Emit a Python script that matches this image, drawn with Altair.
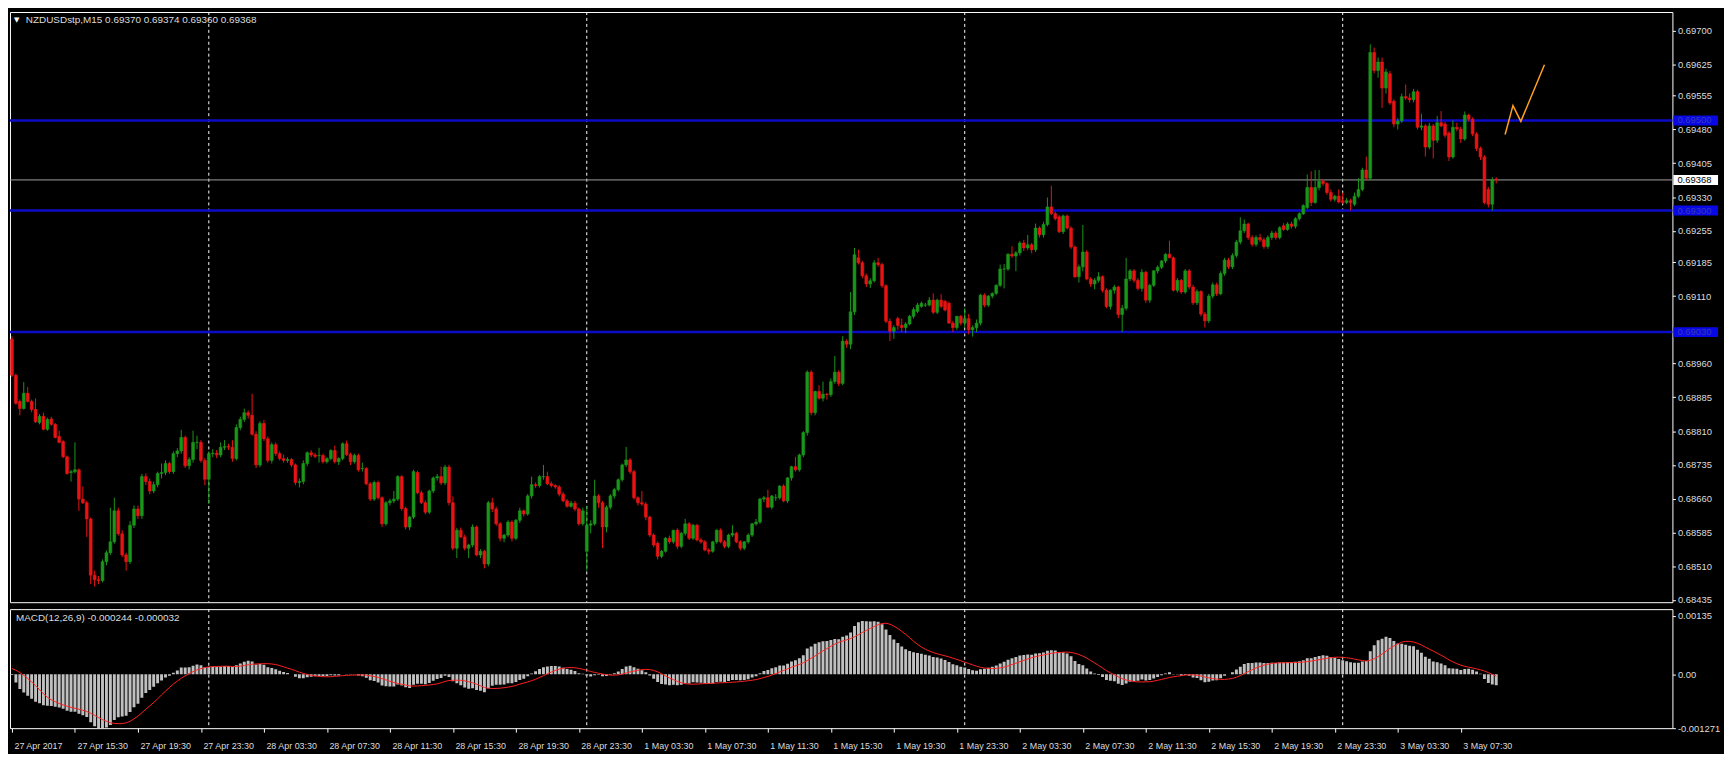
import json
import altair as alt
import pandas as pd

# ---------------- data (prices in points: price = 0.68 + value * 0.00001) ----------------
BASE = 0.68
PT = 0.00001

opens = [
    1014, 934, 876, 860, 894, 876, 858, 829, 843, 814,
    837, 825, 798, 787, 753, 718, 720, 724, 659, 651,
    615, 490, 480, 478, 520, 540, 564, 633, 582, 535,
    520, 601, 637, 622, 709, 698, 677, 691, 716, 718,
    738, 720, 760, 766, 796, 733, 747, 785, 785, 745,
    703, 760, 761, 757, 774, 776, 774, 749, 818, 836,
    851, 845, 803, 735, 827, 793, 745, 780, 760, 749,
    745, 747, 735, 696, 698, 738, 762, 757, 756, 756,
    742, 749, 767, 742, 749, 782, 758, 742, 756, 727,
    727, 693, 659, 696, 662, 604, 651, 655, 659, 709,
    638, 597, 619, 718, 673, 651, 630, 677, 706, 709,
    695, 730, 651, 550, 590, 575, 550, 557, 597, 535,
    543, 515, 651, 637, 604, 572, 579, 608, 572, 612,
    633, 626, 666, 691, 689, 709, 709, 693, 689, 686,
    670, 655, 643, 650, 637, 604, 543, 601, 604, 666,
    651, 597, 641, 666, 680, 702, 735, 746, 720, 662,
    651, 648, 619, 579, 561, 532, 543, 572, 564, 590,
    554, 583, 604, 572, 601, 568, 564, 546, 543, 564,
    590, 564, 554, 579, 583, 564, 550, 564, 579, 604,
    608, 659, 662, 641, 662, 662, 688, 655, 706, 731,
    724, 757, 807, 941, 851, 898, 883, 892, 891, 920,
    941, 916, 1010, 1003, 1075, 1195, 1184, 1155, 1137, 1144,
    1184, 1180, 1133, 1054, 1032, 1060, 1045, 1040, 1048, 1065,
    1076, 1087, 1090, 1090, 1101, 1074, 1101, 1098, 1094, 1050,
    1040, 1065, 1050, 1060, 1035, 1040, 1050, 1112, 1090, 1110,
    1116, 1134, 1170, 1170, 1203, 1199, 1206, 1228, 1217, 1224,
    1213, 1261, 1246, 1269, 1308, 1293, 1286, 1253, 1288, 1261,
    1219, 1153, 1175, 1208, 1148, 1137, 1145, 1153, 1123, 1087,
    1123, 1130, 1069, 1083, 1148, 1166, 1145, 1127, 1163, 1101,
    1134, 1166, 1174, 1188, 1203, 1195, 1123, 1145, 1119, 1166,
    1130, 1095, 1120, 1070, 1055, 1110, 1135, 1115, 1160, 1190,
    1175, 1200, 1230, 1255, 1270, 1240, 1225, 1240, 1235, 1220,
    1240, 1250, 1240, 1266, 1258, 1270, 1265, 1282, 1293, 1307,
    1351, 1318, 1351, 1365, 1360, 1340, 1325, 1332, 1322, 1318,
    1322, 1314, 1332, 1347, 1390, 1372, 1651, 1611, 1630, 1572,
    1604, 1543, 1492, 1499, 1553, 1550, 1546, 1564, 1485, 1488,
    1441, 1488, 1456, 1495, 1492, 1472, 1419, 1485, 1481, 1459,
    1512, 1503, 1470, 1438, 1419, 1347, 1314, 1370,
]
highs = [
    1021, 938, 880, 919, 908, 880, 883, 848, 851, 840,
    842, 828, 811, 790, 756, 724, 785, 727, 687, 655,
    618, 500, 488, 525, 545, 640, 662, 640, 590, 540,
    610, 645, 645, 715, 716, 705, 698, 720, 738, 745,
    742, 765, 772, 813, 800, 752, 811, 800, 790, 750,
    765, 770, 768, 785, 790, 782, 790, 825, 842, 860,
    856, 893, 810, 832, 835, 798, 785, 785, 765, 758,
    752, 750, 738, 705, 745, 765, 768, 762, 773, 760,
    752, 770, 778, 752, 785, 789, 762, 760, 760, 740,
    730, 697, 700, 700, 665, 655, 660, 677, 712, 712,
    642, 622, 724, 722, 678, 656, 680, 709, 715, 731,
    735, 735, 665, 595, 596, 580, 560, 603, 600, 548,
    546, 655, 662, 642, 608, 582, 612, 612, 615, 640,
    636, 670, 709, 696, 712, 735, 720, 698, 692, 690,
    675, 659, 655, 655, 640, 640, 644, 612, 702, 670,
    655, 645, 670, 684, 705, 738, 775, 750, 724, 665,
    677, 652, 622, 583, 565, 546, 575, 578, 590, 594,
    586, 615, 608, 604, 604, 573, 568, 550, 566, 592,
    594, 568, 582, 601, 586, 568, 566, 583, 606, 615,
    662, 666, 680, 668, 670, 690, 692, 708, 733, 753,
    760, 810, 945, 945, 900, 912, 920, 895, 927, 977,
    945, 1021, 1014, 1119, 1217, 1213, 1188, 1160, 1150, 1190,
    1195, 1184, 1136, 1060, 1045, 1064, 1060, 1052, 1068, 1085,
    1095, 1098, 1095, 1108, 1116, 1104, 1114, 1102, 1098, 1055,
    1066, 1068, 1083, 1070, 1045, 1058, 1115, 1116, 1112, 1118,
    1136, 1180, 1181, 1205, 1221, 1210, 1232, 1235, 1246, 1228,
    1271, 1265, 1275, 1329, 1355, 1298, 1290, 1291, 1291, 1265,
    1222, 1180, 1268, 1212, 1152, 1150, 1163, 1156, 1127, 1125,
    1135, 1133, 1090, 1195, 1170, 1170, 1150, 1170, 1166, 1137,
    1168, 1178, 1190, 1205, 1233, 1198, 1150, 1148, 1170, 1170,
    1135, 1125, 1123, 1075, 1115, 1140, 1140, 1165, 1195, 1195,
    1205, 1235, 1285, 1280, 1273, 1245, 1245, 1248, 1240, 1245,
    1255, 1254, 1265, 1272, 1274, 1275, 1285, 1296, 1314, 1380,
    1387, 1390, 1390, 1370, 1363, 1347, 1335, 1347, 1340, 1328,
    1326, 1340, 1372, 1395, 1420, 1669, 1662, 1640, 1640, 1615,
    1610, 1547, 1505, 1560, 1580, 1560, 1570, 1568, 1515, 1492,
    1495, 1492, 1510, 1521, 1497, 1476, 1500, 1495, 1486, 1520,
    1515, 1507, 1474, 1442, 1423, 1352, 1374, 1374,
]
lows = [
    930, 869, 845, 858, 874, 852, 828, 825, 812, 811,
    822, 794, 783, 750, 713, 698, 716, 633, 648, 575,
    470, 465, 470, 474, 512, 535, 560, 578, 530, 500,
    515, 595, 615, 615, 690, 670, 672, 685, 705, 712,
    715, 715, 752, 760, 728, 725, 740, 770, 740, 690,
    648, 752, 750, 752, 768, 768, 742, 745, 812, 830,
    838, 800, 728, 730, 788, 740, 738, 755, 745, 740,
    740, 730, 690, 685, 692, 732, 752, 750, 740, 738,
    738, 745, 738, 735, 745, 755, 735, 738, 720, 720,
    690, 655, 655, 658, 597, 600, 645, 650, 655, 633,
    592, 590, 615, 670, 648, 625, 626, 672, 700, 690,
    690, 645, 545, 528, 572, 545, 528, 552, 532, 528,
    505, 510, 630, 600, 565, 563, 575, 565, 568, 606,
    620, 622, 660, 684, 685, 702, 690, 685, 682, 665,
    652, 640, 640, 632, 600, 600, 500, 583, 600, 640,
    550, 585, 636, 660, 676, 698, 730, 715, 658, 645,
    644, 612, 575, 552, 525, 528, 540, 560, 560, 548,
    550, 578, 568, 568, 565, 560, 543, 536, 540, 560,
    561, 550, 550, 575, 561, 545, 546, 560, 575, 600,
    604, 652, 640, 636, 655, 658, 652, 650, 700, 720,
    720, 752, 800, 845, 845, 880, 876, 880, 886, 915,
    910, 912, 995, 992, 1068, 1180, 1150, 1130, 1128, 1140,
    1175, 1128, 1050, 1010, 1015, 1035, 1030, 1028, 1045, 1060,
    1072, 1084, 1086, 1087, 1070, 1070, 1083, 1076, 1048, 1030,
    1035, 1045, 1040, 1025, 1020, 1030, 1045, 1085, 1086, 1105,
    1112, 1130, 1127, 1166, 1195, 1165, 1200, 1210, 1212, 1205,
    1208, 1240, 1240, 1265, 1290, 1278, 1250, 1248, 1258, 1215,
    1150, 1140, 1165, 1145, 1130, 1125, 1140, 1118, 1083, 1080,
    1115, 1061, 1030, 1078, 1143, 1140, 1123, 1120, 1095, 1095,
    1130, 1160, 1170, 1183, 1195, 1120, 1118, 1115, 1115, 1125,
    1090, 1090, 1065, 1040, 1050, 1105, 1110, 1112, 1155, 1170,
    1170, 1195, 1225, 1250, 1235, 1220, 1220, 1230, 1215, 1215,
    1235, 1235, 1236, 1255, 1255, 1260, 1260, 1278, 1290, 1303,
    1310, 1315, 1345, 1355, 1335, 1320, 1320, 1316, 1315, 1314,
    1300, 1310, 1328, 1343, 1368, 1367, 1605, 1595, 1528, 1560,
    1535, 1485, 1480, 1495, 1545, 1540, 1540, 1480, 1478, 1420,
    1436, 1416, 1450, 1485, 1462, 1410, 1415, 1476, 1450, 1455,
    1498, 1465, 1432, 1412, 1314, 1307, 1300, 1360,
]
closes = [
    934, 872, 860, 894, 876, 858, 831, 843, 814, 836,
    825, 796, 785, 753, 716, 720, 724, 659, 651, 615,
    490, 480, 478, 520, 540, 564, 633, 582, 535, 520,
    601, 637, 622, 709, 698, 677, 691, 716, 718, 738,
    720, 760, 766, 796, 733, 747, 785, 785, 745, 703,
    760, 761, 757, 774, 776, 774, 749, 818, 836, 851,
    845, 803, 735, 827, 793, 745, 780, 760, 749, 745,
    747, 735, 696, 698, 738, 762, 757, 754, 756, 742,
    749, 767, 742, 749, 782, 758, 742, 756, 724, 727,
    693, 659, 696, 662, 604, 651, 655, 659, 709, 638,
    597, 619, 720, 673, 651, 630, 677, 706, 709, 695,
    730, 651, 550, 590, 575, 550, 557, 597, 535, 543,
    515, 651, 637, 604, 572, 579, 608, 572, 612, 633,
    626, 666, 691, 689, 709, 709, 693, 689, 686, 670,
    655, 643, 650, 637, 604, 633, 601, 604, 666, 651,
    597, 641, 666, 680, 702, 735, 746, 720, 662, 651,
    648, 619, 579, 557, 532, 543, 572, 564, 590, 554,
    583, 604, 572, 601, 568, 564, 546, 543, 564, 590,
    564, 554, 579, 583, 564, 550, 564, 579, 604, 608,
    659, 662, 641, 666, 662, 688, 655, 706, 731, 724,
    757, 807, 941, 851, 898, 883, 892, 891, 920, 941,
    916, 1010, 1003, 1075, 1202, 1184, 1155, 1137, 1144, 1184,
    1180, 1133, 1054, 1032, 1040, 1045, 1040, 1048, 1065, 1080,
    1090, 1094, 1090, 1101, 1074, 1101, 1087, 1079, 1050, 1040,
    1065, 1050, 1060, 1035, 1040, 1050, 1112, 1090, 1110, 1116,
    1134, 1170, 1170, 1203, 1199, 1206, 1228, 1217, 1224, 1213,
    1261, 1246, 1269, 1308, 1293, 1282, 1253, 1288, 1261, 1219,
    1153, 1175, 1208, 1148, 1137, 1145, 1153, 1123, 1087, 1123,
    1130, 1069, 1083, 1148, 1166, 1145, 1127, 1163, 1101, 1134,
    1166, 1174, 1188, 1203, 1195, 1123, 1145, 1119, 1166, 1130,
    1095, 1120, 1070, 1055, 1110, 1135, 1115, 1160, 1190, 1175,
    1200, 1230, 1255, 1270, 1240, 1225, 1240, 1235, 1220, 1240,
    1250, 1240, 1262, 1258, 1270, 1265, 1282, 1293, 1311, 1351,
    1318, 1351, 1365, 1360, 1340, 1325, 1332, 1319, 1318, 1322,
    1318, 1332, 1347, 1390, 1372, 1651, 1611, 1630, 1572, 1608,
    1539, 1492, 1499, 1553, 1550, 1546, 1564, 1485, 1488, 1441,
    1488, 1456, 1495, 1488, 1467, 1419, 1485, 1481, 1459, 1512,
    1503, 1470, 1438, 1419, 1318, 1314, 1369, 1368,
]

x_labels = [
    "27 Apr 2017", "27 Apr 15:30", "27 Apr 19:30", "27 Apr 23:30",
    "28 Apr 03:30", "28 Apr 07:30", "28 Apr 11:30", "28 Apr 15:30",
    "28 Apr 19:30", "28 Apr 23:30", "1 May 03:30", "1 May 07:30",
    "1 May 11:30", "1 May 15:30", "1 May 19:30", "1 May 23:30",
    "2 May 03:30", "2 May 07:30", "2 May 11:30", "2 May 15:30",
    "2 May 19:30", "2 May 23:30", "3 May 03:30", "3 May 07:30",
]
bars_per_label = 16
price_ticks = [0.69700, 0.69625, 0.69555, 0.69480, 0.69405, 0.69330, 0.69255,
               0.69185, 0.69110, 0.68960, 0.68885, 0.68810, 0.68735, 0.68660,
               0.68585, 0.68510, 0.68435]
level_prices = [0.69500, 0.69300, 0.69030]
bid_price = 0.69368
day_separators = [50, 146, 242, 338]          # bar index of each day's 00:00
zig_bars = [379.25, 381.25, 383.25, 389.25]   # hand-drawn orange trend lines
zig_prices = [0.69469, 0.69533, 0.69498, 0.69624]
macd_tick_values = [0.00135, 0.0, -0.00124]
macd_tick_text = ["0.00135", "0.00", "-0.001271"]
# indicator state carried in from the bars before the first visible one (estimated)
ema12_seed = 0.69125
ema26_seed = 0.69110
title_text = "NZDUSDstp,M15  0.69370 0.69374 0.69360 0.69368"
macd_title = "MACD(12,26,9) -0.000244 -0.000032"

# ---------------- frames ----------------
n = len(closes)
df = pd.DataFrame({
    "i": list(range(n)),
    "o": [round(BASE + v * PT, 5) for v in opens],
    "h": [round(BASE + v * PT, 5) for v in highs],
    "l": [round(BASE + v * PT, 5) for v in lows],
    "c": [round(BASE + v * PT, 5) for v in closes],
})
# MACD(12,26,9) as MetaTrader computes it: EMA12-EMA26 of close, signal = SMA9 of main
a12, a26 = 2 / 13, 2 / 27
e12, e26 = ema12_seed, ema26_seed
main_vals = []
for cval in df["c"]:
    e12 = e12 + a12 * (cval - e12)
    e26 = e26 + a26 * (cval - e26)
    main_vals.append(e12 - e26)
df["macd"] = main_vals
prior = [ema12_seed - ema26_seed] * 8
padded = pd.Series(prior + main_vals)
df["signal"] = padded.rolling(9).mean().iloc[8:].reset_index(drop=True)

levels_df = pd.DataFrame({"p": level_prices, "txt": [f"{p:.5f}" for p in level_prices]})
bid_df = pd.DataFrame({"p": [bid_price], "txt": [f"{bid_price:.5f}"]})
sep_df = pd.DataFrame({"i": day_separators})
zig_df = pd.DataFrame({"i": zig_bars, "p": zig_prices, "k": list(range(len(zig_bars)))})
one = pd.DataFrame({"a": [0]})

# ---------------- styling ----------------
W = 1676
H_MAIN = 595
H_MACD = 120
FONT = "Liberation Sans"
FS = 9.5
FSX = 9
FST = 10
TXT = "#dcdcdc"
UP = "#1a961a"
DOWN = "#e81414"
LEVEL_BLUE = "#0c0cc8"

xdom = alt.Scale(domain=[-0.5, 421.75], nice=False, zero=False)
ydom = alt.Scale(domain=[0.68430, 0.69741], nice=False, zero=False)
yax = alt.Axis(orient="right", values=price_ticks, format=".5f", title=None,
               grid=False, domain=False, ticks=True, tickSize=3, tickColor="white",
               labelColor=TXT, labelFont=FONT, labelFontSize=FS, labelPadding=2,
               labelOverlap=False, labelFlush=False)

X = alt.X("i:Q", scale=xdom, axis=None)

seps = alt.Chart(sep_df).mark_rule(color="white", strokeDash=[3, 3], strokeWidth=1).encode(x=X)

levels = alt.Chart(levels_df).mark_rule(color=LEVEL_BLUE, strokeWidth=2.5).encode(
    y=alt.Y("p:Q", scale=ydom, axis=yax))
bid = alt.Chart(bid_df).mark_rule(color="#a0a0a0", strokeWidth=1).encode(
    y=alt.Y("p:Q", scale=ydom, axis=yax))

base = alt.Chart(df).transform_calculate(
    dirn="datum.c >= datum.o ? 'up' : 'down'",
    x0="datum.i - 0.36",
    x1="datum.i + 0.36",
)
col = alt.Color("dirn:N", scale=alt.Scale(domain=["up", "down"], range=[UP, DOWN]), legend=None)
stk = alt.Stroke("dirn:N", scale=alt.Scale(domain=["up", "down"], range=[UP, DOWN]), legend=None)

wicks = base.mark_rule(strokeWidth=1, clip=True).encode(
    x=X, y=alt.Y("l:Q", scale=ydom, axis=yax), y2="h:Q", color=col)
bodies = base.mark_bar(strokeWidth=0.6, clip=True).encode(
    x=alt.X("x0:Q", scale=xdom, axis=None), x2="x1:Q",
    y=alt.Y("o:Q", scale=ydom, axis=yax), y2="c:Q", fill=col, stroke=stk)

zig = alt.Chart(zig_df).mark_line(color="#ffa020", strokeWidth=1.5).encode(
    x=X, y=alt.Y("p:Q", scale=ydom, axis=yax), order="k:Q")

title_tri = alt.Chart(one).mark_text(text="▼", color="white", fontSize=7, align="left",
                                     baseline="middle", font="DejaVu Sans").encode(
    x=alt.value(4), y=alt.value(8))
title = alt.Chart(one).mark_text(text=title_text, color=TXT, fontSize=FST, align="left",
                                 baseline="middle", font=FONT).encode(
    x=alt.value(16), y=alt.value(8))

lvl_box = alt.Chart(levels_df).mark_rule(color="#0808e6", strokeWidth=10).encode(
    x=alt.value(W + 1), x2=alt.value(W + 46), y=alt.Y("p:Q", scale=ydom, axis=yax))
lvl_txt = alt.Chart(levels_df).mark_text(color="#3a3ab4", fontSize=FS, align="left",
                                         baseline="middle", font=FONT).encode(
    x=alt.value(W + 5), y=alt.Y("p:Q", scale=ydom, axis=yax), text="txt:N")
bid_box = alt.Chart(bid_df).mark_rule(color="white", strokeWidth=10).encode(
    x=alt.value(W + 1), x2=alt.value(W + 46), y=alt.Y("p:Q", scale=ydom, axis=yax))
bid_txt = alt.Chart(bid_df).mark_text(color="black", fontSize=FS, align="left",
                                      baseline="middle", font=FONT).encode(
    x=alt.value(W + 5), y=alt.Y("p:Q", scale=ydom, axis=yax), text="txt:N")

main = alt.layer(seps, levels, bid, wicks, bodies, zig, title_tri, title,
                 lvl_box, lvl_txt, bid_box, bid_txt).properties(width=W, height=H_MAIN)

# ---------------- MACD panel ----------------
label_expr = f"{json.dumps(x_labels)}[round(datum.value / {bars_per_label})]"
xax = alt.Axis(orient="bottom", values=[k * bars_per_label for k in range(len(x_labels))],
               labelExpr=label_expr, title=None, grid=False, domain=False,
               tickSize=4, tickColor="white", labelColor=TXT, labelFont=FONT,
               labelFontSize=FSX, labelAlign="left", labelOffset=2, labelPadding=9,
               labelOverlap=False, labelFlush=False)
m_expr = " : ".join(
    f"abs(datum.value - ({v})) < 1e-9 ? '{t}'" for v, t in zip(macd_tick_values, macd_tick_text)
) + " : ''"
mdom = alt.Scale(domain=[-0.00124, 0.00150], nice=False, zero=False)
myax = alt.Axis(orient="right", values=macd_tick_values, labelExpr=m_expr, title=None,
                grid=False, domain=False, tickSize=3, tickColor="white",
                labelColor=TXT, labelFont=FONT, labelFontSize=FS, labelPadding=2,
                labelOverlap=False, labelFlush=False)

mbase = alt.Chart(df).transform_calculate(x0="datum.i - 0.37", x1="datum.i + 0.37")
hist = mbase.mark_bar(color="#c0c0c0", clip=True).encode(
    x=alt.X("x0:Q", scale=xdom, axis=xax), x2="x1:Q",
    y=alt.Y("macd:Q", scale=mdom, axis=myax), y2=alt.datum(0))
sig = alt.Chart(df).mark_line(color="#ff2020", strokeWidth=1, clip=True).encode(
    x=alt.X("i:Q", scale=xdom, axis=xax), y=alt.Y("signal:Q", scale=mdom, axis=myax))
mseps = alt.Chart(sep_df).mark_rule(color="white", strokeDash=[3, 3], strokeWidth=1).encode(
    x=alt.X("i:Q", scale=xdom, axis=xax))
mtitle = alt.Chart(one).mark_text(text=macd_title, color=TXT, fontSize=FST, align="left",
                                  baseline="middle", font=FONT).encode(
    x=alt.value(6), y=alt.value(9))

macd = alt.layer(mseps, hist, sig, mtitle).properties(width=W, height=H_MACD)

chart = alt.vconcat(main, macd, spacing=3).configure(
    background="black", padding=0
).configure_view(stroke="white", strokeWidth=1, fill="black")

chart.save("out.html", embed_options={"renderer": "svg", "actions": False})
